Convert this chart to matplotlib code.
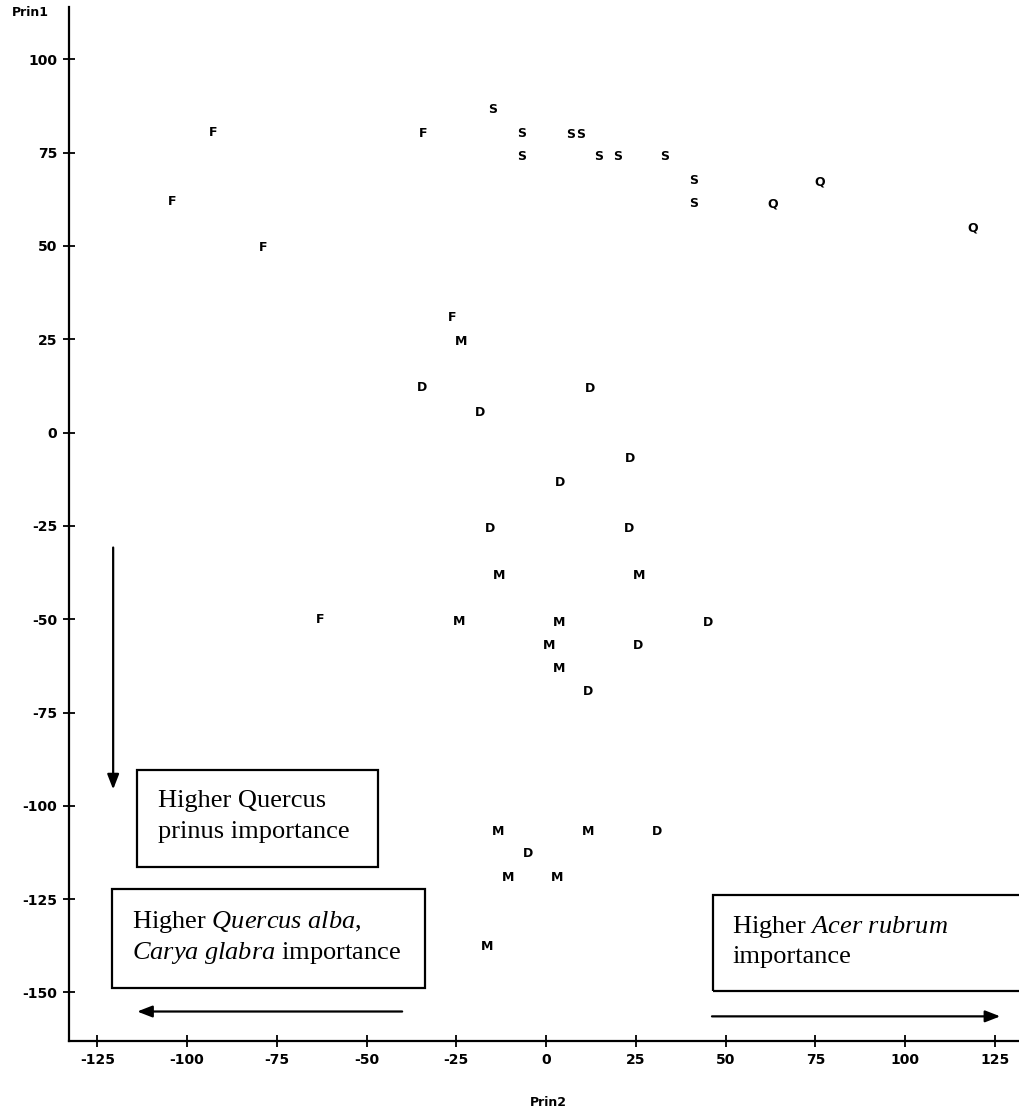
import matplotlib
matplotlib.use("Agg")
import matplotlib.pyplot as plt
from matplotlib.patches import Rectangle

# Principal component scores, one list pair per stand group
groups = ["F", "S", "Q", "M", "D"]
prin2 = {
    "F": [-92.8, -34.3, -104.2, -78.8, -26.2, -63.0],
    "S": [-14.8, -6.7, 6.7, 9.5, -6.7, 14.5, 19.8, 33.1, 41.2, 41.2],
    "Q": [76.3, 63.0, 118.9],
    "M": [-23.7, -13.1, 25.9, -24.2, 3.6, 0.8, 3.6, -13.4, 11.7, -10.6, 3.1, -16.4],
    "D": [-34.5, 12.3, -18.4, 23.4, 3.9, -15.6, 23.1, 45.1, 25.6, 11.7, 30.9, -5.0],
}
prin1 = {
    "F": [80.4, 80.1, 61.9, 49.6, 30.8, -50.1],
    "S": [86.5, 80.1, 79.8, 79.8, 73.9, 73.9, 73.9, 73.9, 67.5, 61.3],
    "Q": [67.2, 61.3, 54.9],
    "M": [24.4, -38.3, -38.3, -50.6, -50.9, -57.1, -63.2, -106.9, -106.9, -119.2, -119.2, -137.7],
    "D": [12.1, 11.8, 5.4, -7.0, -13.4, -25.7, -25.7, -50.9, -57.1, -69.4, -106.9, -112.8],
}
xticks = [-125, -100, -75, -50, -25, 0, 25, 50, 75, 100, 125]
yticks = [100, 75, 50, 25, 0, -25, -50, -75, -100, -125, -150]

plt.rcParams["mathtext.fontset"] = "custom"
plt.rcParams["mathtext.rm"] = "Liberation Serif"
plt.rcParams["mathtext.it"] = "Liberation Serif:italic"

fig = plt.figure(figsize=(10.2, 11.19), dpi=100)
ax = fig.add_axes([69 / 1020, 78 / 1119, 1 - 69 / 1020, (1041 - 7) / 1119])
ax.set_xlim(-132.9, 132.0)
ax.set_ylim(-163.0, 114.0)

for g in groups:
    for x, y in zip(prin2[g], prin1[g]):
        ax.text(x, y, g, ha="center", va="center", fontsize=9,
                fontweight="bold", family="DejaVu Sans")

for s in ["top", "right"]:
    ax.spines[s].set_visible(False)
for s in ["left", "bottom"]:
    ax.spines[s].set_linewidth(1.6)

ax.set_xticks(xticks)
ax.set_yticks(yticks)
ax.set_xticklabels([str(v) for v in xticks])
ax.set_yticklabels([str(v) for v in yticks])
ax.tick_params(direction="inout", length=9, width=1.3, labelsize=10, pad=4)
for lab in ax.get_xticklabels() + ax.get_yticklabels():
    lab.set_fontweight("bold")

fig.text(30 / 1020, 1 - 13 / 1119, "Prin1", ha="center", va="center",
         fontsize=9, fontweight="bold")
fig.text(548 / 1020, 1 - 1103 / 1119, "Prin2", ha="center", va="center",
         fontsize=9, fontweight="bold")

# annotation boxes
box_kw = dict(fill=False, edgecolor="black", linewidth=1.6, clip_on=False)
ax.add_patch(Rectangle((-113.9, -116.3), 67.1, 26.0, **box_kw))
ax.add_patch(Rectangle((-120.9, -148.7), 87.2, 26.3, **box_kw))
ax.add_patch(Rectangle((46.5, -149.7), 100.0, 25.9, **box_kw))

tkw = dict(family="Liberation Serif", fontsize=19, ha="left", va="center")
ax.text(-108.1, -98.8, "Higher Quercus", **tkw)
ax.text(-108.1, -106.9, "prinus importance", **tkw)
ax.text(-115.4, -131.1, r"Higher $\mathit{Quercus\ alba}$,", **tkw)
ax.text(-115.4, -139.4, r"$\mathit{Carya\ glabra}$ importance", **tkw)
ax.text(51.9, -132.4, r"Higher $\mathit{Acer\ rubrum}$", **tkw)
ax.text(51.9, -140.4, "importance", **tkw)

akw = dict(arrowstyle="-|>,head_length=0.9,head_width=0.35", color="black",
           linewidth=1.6, shrinkA=0, shrinkB=0)
ax.annotate("", xy=(-120.6, -95.6), xytext=(-120.6, -30.8), arrowprops=akw)
ax.annotate("", xy=(-113.9, -155.1), xytext=(-40.1, -155.1), arrowprops=akw)
ax.annotate("", xy=(126.5, -156.4), xytext=(46.2, -156.4), arrowprops=akw)

fig.savefig("out.png", dpi=100)
